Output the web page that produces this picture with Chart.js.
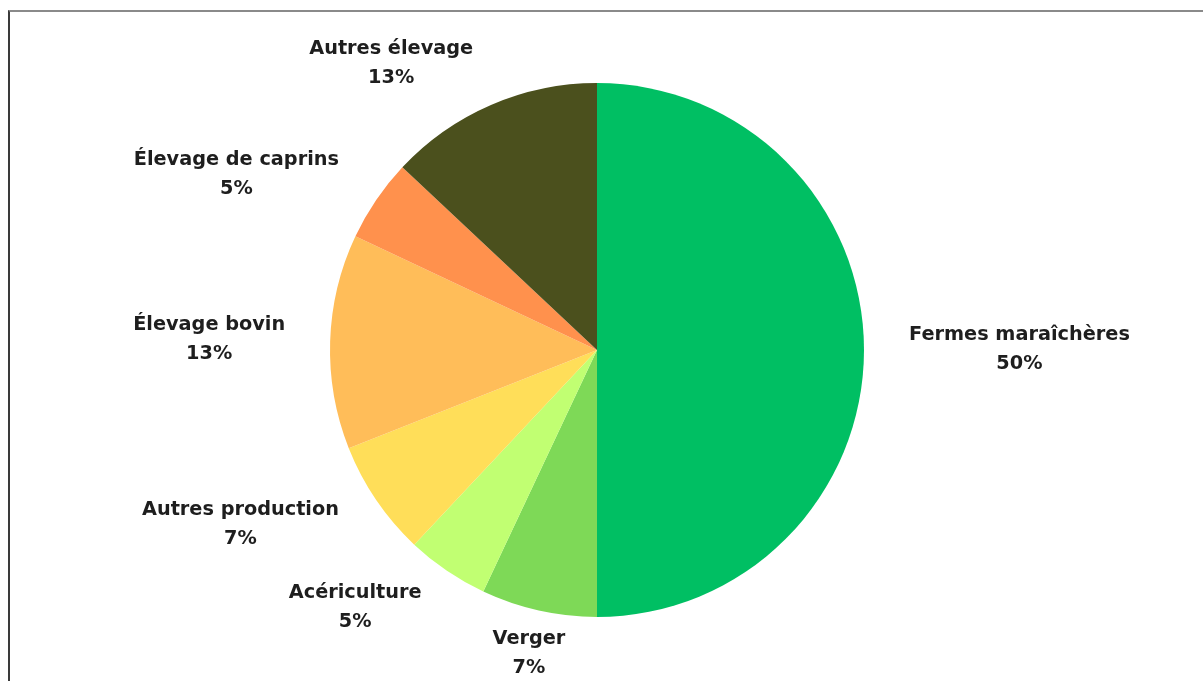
<!DOCTYPE html>
<html>
<head>
<meta charset="utf-8">
<script src="https://cdn.jsdelivr.net/npm/chart.js@4.4.1/dist/chart.umd.min.js"></script>
<style>
  html, body { margin: 0; padding: 0; background: #fff; }
  body { width: 1203px; height: 681px; overflow: hidden; position: relative; }
  #frame { position: absolute; left: 8px; top: 10px; width: 1300px; height: 800px;
           border-left: 2px solid #3a3a3a; border-top: 2px solid #8a8a8a; box-sizing: border-box; }
  #wrap { position: absolute; left: 0; top: 0; width: 1203px; height: 681px; }
</style>
</head>
<body>
<div id="frame"></div>
<div id="wrap"><canvas id="c" width="1203" height="681"></canvas></div>
<script>
const categories = ["Fermes maraîchères", "Verger", "Acériculture", "Autres production", "Élevage bovin", "Élevage de caprins", "Autres élevage"];
const shares = [50, 7, 5, 7, 13, 5, 13];
const percentLabels = ["50%", "7%", "5%", "7%", "13%", "5%", "13%"];
const sliceColors = ["#00BF63", "#7ED957", "#C1FF72", "#FFDE59", "#FFBD59", "#FF914D", "#4B501D"];

const LABEL_FONT = "bold 19.3px 'DejaVu Sans'";
const LINE_GAP = 29;
const CAP_HALF = 4.5;
const GAP = 45;

const outsideLabels = {
  id: 'outsideLabels',
  afterDatasetsDraw(chart) {
    const ctx = chart.ctx;
    const meta = chart.getDatasetMeta(0);
    ctx.save();
    ctx.font = LABEL_FONT;
    ctx.fillStyle = '#1e1e1e';
    ctx.textAlign = 'center';
    ctx.textBaseline = 'alphabetic';
    meta.data.forEach((arc, i) => {
      const p = arc.getProps(['x', 'y', 'startAngle', 'endAngle', 'outerRadius'], true);
      const mid = (p.startAngle + p.endAngle) / 2;
      const ux = Math.cos(mid), uy = Math.sin(mid);
      const lines = [categories[i], percentLabels[i]];
      const hw = Math.max(...lines.map(t => ctx.measureText(t).width)) / 2;
      const R = p.outerRadius + GAP;
      const ax = p.x + R * ux, ay = p.y + R * uy;
      let cx = ax;
      if (Math.abs(ux) > 0.3) cx = ax + Math.sign(ux) * hw;
      const cy = ay;
      ctx.fillText(lines[0], cx, cy - LINE_GAP / 2 + CAP_HALF);
      ctx.fillText(lines[1], cx, cy + LINE_GAP / 2 + CAP_HALF);
    });
    ctx.restore();
  }
};

new Chart(document.getElementById('c'), {
  type: 'pie',
  data: {
    labels: categories,
    datasets: [{
      data: shares,
      backgroundColor: sliceColors,
      borderWidth: 0,
      hoverOffset: 0
    }]
  },
  options: {
    responsive: false,
    animation: false,
    layout: { padding: { top: 83, bottom: 64, left: 100, right: 109 } },
    plugins: {
      legend: { display: false },
      tooltip: { enabled: false }
    },
    events: []
  },
  plugins: [outsideLabels]
});
</script>
</body>
</html>
